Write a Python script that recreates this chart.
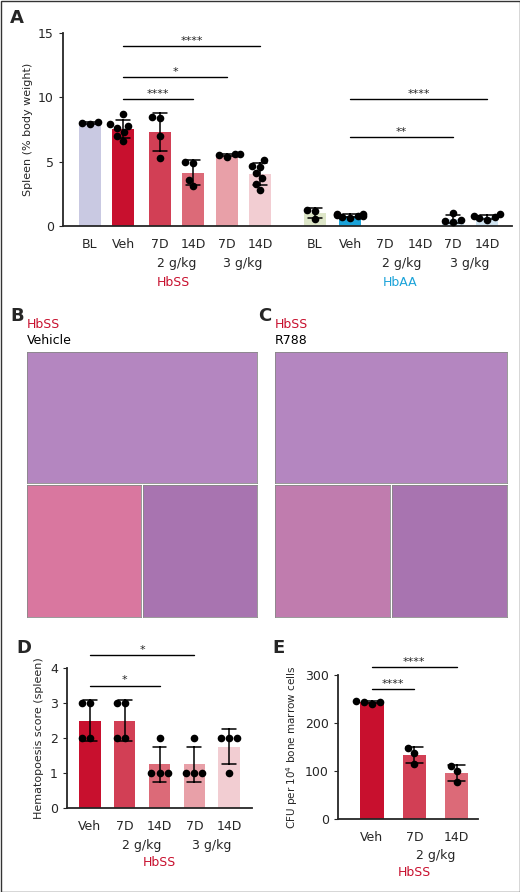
import numpy as np, pandas as pd, matplotlib
matplotlib.use("Agg")
import matplotlib.pyplot as plt, seaborn as sns
from matplotlib.patches import Rectangle
import matplotlib.transforms as mt

sns.set_style("white")
plt.rcParams['font.family'] = ['DejaVu Sans']

# ---- data ----
a_labels = ["BL","Veh","7D","14D","7D","14D","BL","Veh","7D","14D","7D","14D"]
a_pos = [90,123,160,193,227,260,315,350,385,420,453,487]
a_points = [[8.0,7.9,8.1],[8.7,7.9,7.3,7.0,7.8,7.6,6.6],[8.5,8.4,7.0,5.3],[5.0,4.9,3.6,3.1],
            [5.6,5.6,5.5,5.4],[5.1,4.7,4.6,4.1,3.7,3.3,2.8],
            [1.25,0.55,1.2],[0.9,0.8,0.75,0.7,0.85,0.9,0.6],[],[],[0.3,0.5,1.0,0.4],[0.5,0.7,0.9,0.6,0.8]]
a_colors = ["#c9c9e2","#c8102e","#d23f55","#dc6a78","#e8a0a8","#f2cdd2",
            "#dde6c8","#1ba3d9","#d23f55","#dc6a78","#cfe3f0","#cfe3f0"]
d_labels = ["Veh","7D","14D","7D","14D"]
d_points = [[3,3,2,2],[3,3,2,2],[1,1,1,2],[1,1,1,2],[2,2,1,2]]
d_colors = ["#c8102e","#d23f55","#dc6a78","#e8a0a8","#f2cdd2"]
e_labels = ["Veh","7D","14D"]
e_points = [[240,245,243,243],[148,115,138],[110,78,100]]
e_colors = ["#c8102e","#d23f55","#dc6a78"]

W, H = 520, 892
fig = plt.figure(figsize=(W/100, H/100), dpi=100)
def rect(x0, y0, x1, y1):
    return [x0/W, 1-y1/H, (x1-x0)/W, (y1-y0)/H]

def panel(ax, xs, pts, colors, width, native):
    rows = [(x, v, i) for i, (x, p) in enumerate(zip(xs, pts)) for v in p]
    df = pd.DataFrame(rows, columns=["x","y","g"])
    pal = {i: c for i, c in enumerate(colors)}
    sns.barplot(data=df, x="x", y="y", hue="g", palette=pal, dodge=False, native_scale=native,
                errorbar="sd", capsize=0.4, err_kws={"linewidth":1.1,"color":"black"}, saturation=1,
                width=width, legend=False, ax=ax, edgecolor="none")
    sns.swarmplot(data=df, x="x", y="y", color="black", size=5.5, native_scale=native, ax=ax, legend=False)
    ax.set_xlabel("")
    sns.despine(ax=ax)
    for s in ("left","bottom"):
        ax.spines[s].set_linewidth(1.3)

def sig(ax, x0, x1, y, t):
    ax.plot([x0, x1], [y, y], color="black", lw=1, clip_on=False)
    ax.text((x0+x1)/2, y, t, ha="center", va="bottom", fontsize=8, clip_on=False)

# ---- Panel A ----
ax = fig.add_axes(rect(63, 33, 512, 226))
panel(ax, a_pos, a_points, a_colors, 0.68, True)
ax.set_xlim(63, 512); ax.set_ylim(0, 15); ax.set_yticks([0,5,10,15])
ax.set_xticks(a_pos); ax.set_xticklabels(a_labels, fontsize=9)
ax.set_ylabel("Spleen (% body weight)", fontsize=8)
ax.tick_params(axis="y", labelsize=9, left=True, length=3)
ax.tick_params(axis="x", bottom=False, pad=5)
sig(ax, 123, 260, 14.0, "****"); sig(ax, 123, 227, 11.6, "*"); sig(ax, 123, 193, 9.9, "****")
sig(ax, 350, 487, 9.9, "****"); sig(ax, 350, 453, 6.9, "**")
tr = mt.blended_transform_factory(ax.transData, fig.transFigure)
for x, t in [(177,"2 g/kg"),(243,"3 g/kg"),(402,"2 g/kg"),(470,"3 g/kg")]:
    fig.text(x, 1-263/H, t, transform=tr, ha="center", va="center", fontsize=9)
fig.text(173, 1-282/H, "HbSS", transform=tr, ha="center", va="center", fontsize=9, color="#c8102e")
fig.text(400, 1-282/H, "HbAA", transform=tr, ha="center", va="center", fontsize=9, color="#1ba3d9")

# ---- Panels B, C (histology placeholders) ----
for x0, x1, sub in [(27, 257, "Vehicle"), (275, 507, "R788")]:
    fig.text(x0/W, 1-324/H, "HbSS", color="#c8102e", fontsize=9, va="center")
    fig.text(x0/W, 1-341/H, sub, color="black", fontsize=9, va="center")
    top = fig.add_axes(rect(x0, 352, x1, 483)); top.set_facecolor("#b486c0")
    mid = (x0+x1)/2
    bl = fig.add_axes(rect(x0, 485, mid-1, 617)); bl.set_facecolor("#d9779f" if sub=="Vehicle" else "#c07cae")
    br = fig.add_axes(rect(mid+1, 485, x1, 617)); br.set_facecolor("#a874b0")
    for a in (top, bl, br):
        a.set_xticks([]); a.set_yticks([])
        for s in a.spines.values(): s.set_color("#888888"); s.set_linewidth(0.6)

# ---- Panel D ----
ax = fig.add_axes(rect(67, 668, 252, 808))
panel(ax, list(range(5)), d_points, d_colors, 0.62, False)
ax.set_xlim(-0.65, 4.65)
ax.set_ylim(0, 4); ax.set_yticks([0,1,2,3,4])
ax.set_xticks(range(5)); ax.set_xticklabels(d_labels, fontsize=9)
ax.set_ylabel("Hematopoesis score (spleen)", fontsize=8)
ax.tick_params(axis="y", labelsize=9, left=True, length=3); ax.tick_params(axis="x", bottom=False, pad=5)
sig(ax, 0, 3, 4.37, "*"); sig(ax, 0, 2, 3.5, "*")
tr = mt.blended_transform_factory(ax.transData, fig.transFigure)
fig.text(1.5, 1-845/H, "2 g/kg", transform=tr, ha="center", fontsize=9, va="center")
fig.text(3.5, 1-845/H, "3 g/kg", transform=tr, ha="center", fontsize=9, va="center")
fig.text(2, 1-863/H, "HbSS", transform=tr, ha="center", fontsize=9, va="center", color="#c8102e")

# ---- Panel E ----
ax = fig.add_axes(rect(338, 675, 478, 819))
panel(ax, list(range(3)), e_points, e_colors, 0.55, False)
ax.set_xlim(-0.8, 2.5)
ax.set_ylim(0, 300); ax.set_yticks([0,100,200,300])
ax.set_xticks(range(3)); ax.set_xticklabels(e_labels, fontsize=9)
ax.set_ylabel("CFU per 10$^4$ bone marrow cells", fontsize=7.5)
ax.tick_params(axis="y", labelsize=9, left=True, length=3); ax.tick_params(axis="x", bottom=False, pad=5)
sig(ax, 0, 1, 271, "****"); sig(ax, 0, 2, 316, "****")
tr = mt.blended_transform_factory(ax.transData, fig.transFigure)
fig.text(1.5, 1-855/H, "2 g/kg", transform=tr, ha="center", fontsize=9, va="center")
fig.text(1, 1-873/H, "HbSS", transform=tr, ha="center", fontsize=9, va="center", color="#c8102e")

for x, y, t in [(10,18,"A"),(10,316,"B"),(258,316,"C"),(16,648,"D"),(272,648,"E")]:
    fig.text(x/W, 1-y/H, t, fontsize=13, fontweight="bold", va="center")

fig.add_artist(Rectangle((0.5/W, 0.5/H), (W-1)/W, (H-1)/H, transform=fig.transFigure,
                         fill=False, lw=1, ec="#333333"))
fig.savefig("out.png", dpi=100)
